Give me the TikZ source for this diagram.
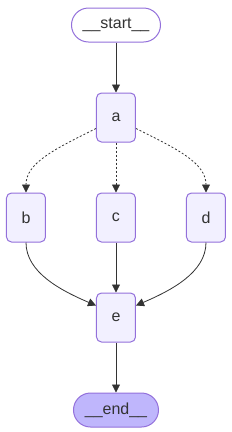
\documentclass[tikz,border=0pt]{standalone}
\usepackage{fontspec}
\setmainfont{Liberation Sans}
\usetikzlibrary{arrows.meta,positioning}
\definecolor{lavender}{HTML}{F2F0FF}
\definecolor{purple}{HTML}{9370DB}
\definecolor{lilac}{HTML}{BFB6FC}
\definecolor{ink}{HTML}{333333}

\begin{document}
\begin{tikzpicture}[node distance=50pt and 50pt,
  every node/.style={font=\fontsize{16}{19}\selectfont,text=ink,align=center},
  stepnode/.style={draw=purple,line width=1pt,fill=lavender,rounded corners=5pt,minimum width=39pt,minimum height=49pt},
  terminal/.style={draw=purple,line width=1pt,rounded corners=17pt,minimum height=34pt},
  edge/.style={draw=ink,line width=0.8pt,-{Triangle[length=8pt,width=8pt]}},
  condedge/.style={edge,dash pattern=on 2pt off 2pt}]
\useasboundingbox (-116pt,25pt) rectangle (116pt,-407pt);
\node[terminal,fill=white,minimum width=89pt] (start) at (0,0) {\_\_start\_\_};
\node[stepnode,below=of start] (a) {a};
\node[stepnode,below=of a] (c) {c};
\node[stepnode,left=of c] (b) {b};
\node[stepnode,right=of c] (d) {d};
\node[stepnode,below=of c] (e) {e};
\node[terminal,fill=lilac,minimum width=85pt,below=of e] (end) {\_\_end\_\_};
\draw[edge] (start)--(a);
\draw[condedge] ([yshift=-11pt]a.west) .. controls +(-40pt,-20pt) and +(0pt,30pt) .. (b.north);
\draw[condedge] (a)--(c);
\draw[condedge] ([yshift=-11pt]a.east) .. controls +(40pt,-20pt) and +(0pt,30pt) .. (d.north);
\draw[edge] (b.south) .. controls +(0pt,-30pt) and +(-35pt,15pt) .. ([yshift=12pt]e.west);
\draw[edge] (c)--(e);
\draw[edge] (d.south) .. controls +(0pt,-30pt) and +(35pt,15pt) .. ([yshift=12pt]e.east);
\draw[edge] (e)--(end);
\end{tikzpicture}
\end{document}
